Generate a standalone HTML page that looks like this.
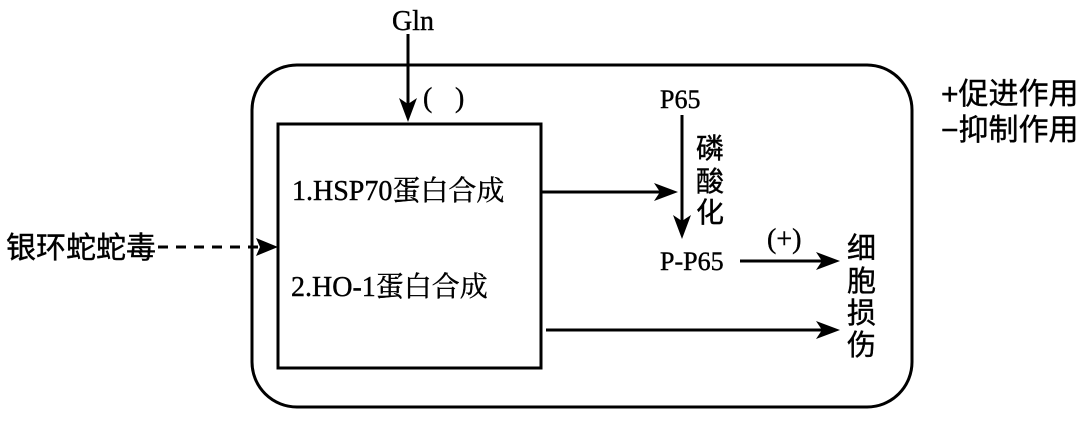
<!DOCTYPE html>
<html><head><meta charset="utf-8"><style>
body{margin:0;background:#fff}
svg text{fill:#000;stroke:#000;stroke-width:0.4}
.s{font-family:"Liberation Serif","Noto Serif CJK SC",serif}
.c{font-family:"Liberation Sans","Noto Sans CJK SC",sans-serif}
</style></head><body>
<svg width="1080" height="417" viewBox="0 0 1080 417" xmlns="http://www.w3.org/2000/svg">
<rect x="252" y="65" width="660" height="342" rx="45" fill="none" stroke="#000" stroke-width="3"/>
<rect x="278" y="124" width="263" height="244" fill="none" stroke="#000" stroke-width="3"/>
<text class="s" x="413" y="30" font-size="28" text-anchor="middle">Gln</text>
<line x1="408" y1="34" x2="408" y2="105" stroke="#000" stroke-width="3"/>
<path d="M399,98 L408,122 L417,98 L408,104Z"/>
<text class="s" x="423" y="107" font-size="28">(</text><text class="s" x="455" y="107" font-size="28">)</text>
<text class="s" x="292" y="200" font-size="28">1.HSP70蛋白合成</text>
<text class="s" x="291" y="296" font-size="28">2.HO-1蛋白合成</text>
<text class="c" x="6" y="258" font-size="30">银环蛇蛇毒</text>
<line x1="158" y1="247" x2="260" y2="247" stroke="#000" stroke-width="3" stroke-dasharray="10,8"/>
<path d="M256,238 L278,247 L256,256 L260,247Z"/>
<line x1="541" y1="192" x2="665" y2="192" stroke="#000" stroke-width="3"/>
<path d="M654,183 L678,192 L654,201 L660,192Z"/>
<text class="s" x="660" y="108" font-size="26">P65</text>
<line x1="682" y1="115" x2="682" y2="225" stroke="#000" stroke-width="3"/>
<path d="M673,215 L682,239 L691,215 L682,221Z"/>
<text class="c" x="696" y="158" font-size="28">磷</text>
<text class="c" x="696" y="191" font-size="28">酸</text>
<text class="c" x="696" y="222" font-size="28">化</text>
<text class="s" x="660" y="270" font-size="26">P-P65</text>
<text class="s" x="767" y="248" font-size="28">(+)</text>
<line x1="740" y1="261" x2="826" y2="261" stroke="#000" stroke-width="3"/>
<path d="M816,252 L840,261 L816,270 L822,261Z"/>
<line x1="546" y1="330" x2="826" y2="330" stroke="#000" stroke-width="3"/>
<path d="M816,321 L840,330 L816,339 L822,330Z"/>
<text class="c" x="847" y="258" font-size="29">细</text>
<text class="c" x="847" y="291" font-size="29">胞</text>
<text class="c" x="847" y="323" font-size="29">损</text>
<text class="c" x="847" y="355" font-size="29">伤</text>
<text class="c" x="941" y="104" font-size="30">+促进作用</text>
<text class="c" x="941" y="140" font-size="30">−抑制作用</text>
</svg>
</body></html>
